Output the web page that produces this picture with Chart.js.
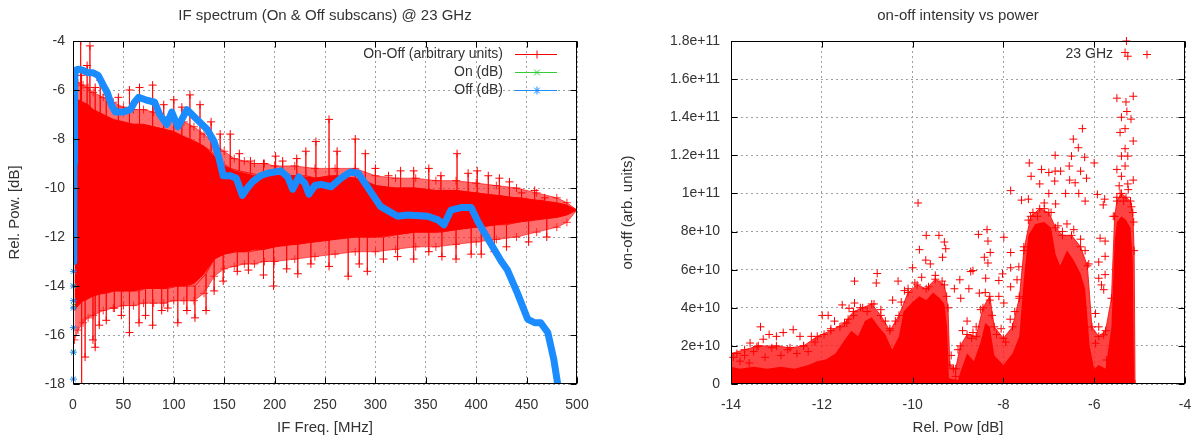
<!DOCTYPE html>
<html>
<head>
<meta charset="utf-8">
<script src="https://cdn.jsdelivr.net/npm/chart.js@4.4.1/dist/chart.umd.min.js"></script>
<style>
  html, body { margin: 0; padding: 0; background: #fff; }
  #wrap { position: relative; width: 1192px; height: 441px; overflow: hidden; }
  canvas { position: absolute; top: 0; }
  #left { left: 0; }
  #right { left: 596px; }
</style>
</head>
<body>
<div id="wrap">
  <canvas id="left" width="596" height="441"></canvas>
  <canvas id="right" width="596" height="441"></canvas>
</div>
<script>
// ---------- left panel: IF spectrum @ 23 GHz ----------
const offFreq = [0.6, 0.8, 1.0, 1.3, 1.7, 2.5, 5, 10, 15, 20, 25, 30, 34, 38, 42, 50, 57, 61, 65, 72,
  81, 86, 93, 98, 104, 108, 113, 118, 123, 133, 140, 145, 149, 156, 162, 168, 173, 178, 186, 193,
  206, 213, 218, 224, 230, 234, 240, 246, 256, 266, 275, 283, 292, 305, 322, 332, 352, 362, 368, 375,
  385, 395, 402, 412, 425, 431, 441, 451, 458, 464, 471, 477, 482];
const offDb = [-13.0, -11.0, -9.0, -7.0, -5.6, -5.2, -5.15, -5.2, -5.3, -5.3, -5.4, -5.8, -6.1, -6.6, -6.9, -6.9, -6.8, -6.5, -6.3, -6.4,
  -6.5, -7.0, -7.4, -6.9, -7.5, -7.2, -6.8, -7.0, -7.2, -7.6, -8.1, -8.8, -9.5, -9.5, -9.6, -10.3, -10.0, -9.75, -9.5, -9.4,
  -9.3, -9.55, -10.05, -9.55, -9.8, -10.25, -9.9, -9.85, -9.95, -9.6, -9.35, -9.4, -9.95, -10.75, -11.15, -11.1, -11.15, -11.3, -11.5, -10.9,
  -10.8, -10.8, -11.4, -12.1, -13.0, -13.35, -14.3, -15.35, -15.5, -15.5, -15.9, -17.0, -18.3];
// scattered Off / On samples at the very start of the band
const offStarFreq = [0.4, 0.4, 0.4, 0.4, 0.4, 0.4, 0.4];
const offStarDb = [-17.8, -16.7, -15.7, -14.9, -14.6, -14.0, -13.4];
const onStarFreq = [0.4, 0.4, 0.4];
const onStarDb = [-16.7, -14.0, -14.8];

// On-Off: envelopes of the dense trace
const envFreq = [1.5, 5, 10, 15, 20, 30, 40, 50, 60, 70, 80, 90, 100, 110, 120, 130, 140, 150, 160, 170,
  180, 190, 200, 220, 240, 260, 280, 300, 320, 340, 360, 380, 400, 420, 440, 460, 480, 490, 500];
const envTopOuter = [-6.0, -5.7, -5.8, -5.9, -6.1, -6.3, -6.5, -6.7, -6.8, -6.8, -6.9, -7.1, -7.2, -7.3, -7.5, -7.8, -8.2, -8.5, -8.8, -8.9,
  -9.0, -9.0, -9.1, -9.1, -9.2, -9.2, -9.2, -9.5, -9.6, -9.6, -9.7, -9.7, -9.8, -9.9, -10.0, -10.2, -10.4, -10.6, -10.9];
const envTopCore = [-6.8, -6.4, -6.5, -6.6, -6.8, -7.0, -7.2, -7.3, -7.4, -7.4, -7.5, -7.6, -7.7, -7.9, -8.1, -8.3, -8.7, -9.1, -9.3, -9.4,
  -9.5, -9.5, -9.5, -9.5, -9.6, -9.5, -9.6, -9.9, -10.0, -10.0, -10.1, -10.1, -10.2, -10.3, -10.4, -10.5, -10.6, -10.7, -10.9];
const envBotCore = [-15.0, -14.8, -14.6, -14.5, -14.4, -14.3, -14.2, -14.2, -14.2, -14.1, -14.1, -14.1, -14.0, -14.0, -13.9, -13.5, -12.9, -12.7, -12.6, -12.6,
  -12.5, -12.5, -12.4, -12.3, -12.2, -12.1, -12.0, -12.0, -11.9, -11.8, -11.8, -11.7, -11.6, -11.5, -11.4, -11.3, -11.2, -11.1, -10.9];
const envBotOuter = [-16.2, -15.8, -15.5, -15.3, -15.2, -15.0, -14.9, -14.8, -14.8, -14.7, -14.7, -14.7, -14.6, -14.6, -14.6, -14.3, -13.6, -13.3, -13.2, -13.1,
  -13.1, -13.0, -13.0, -12.9, -12.8, -12.7, -12.6, -12.6, -12.5, -12.4, -12.4, -12.3, -12.2, -12.1, -12.0, -11.8, -11.6, -11.4, -10.9];

// On-Off single-channel spikes: [freq, base, tip]
const spikesUp = [
  [7.6, -7, -4.0], [8.5, -7, -5.4], [14, -7, -5.0], [16.8, -7, -4.2], [22, -7, -5.9], [27, -7, -5.6],
  [33, -7.2, -6.2], [45, -7.3, -6.3], [56, -7.4, -6.0], [66, -7.4, -5.9], [79, -7.5, -5.8], [90, -7.6, -6.6],
  [100, -7.7, -6.4], [108, -7.9, -6.7], [116, -8.0, -6.2], [126, -8.2, -6.6], [137, -8.5, -7.3], [146, -8.9, -7.8],
  [156, -9.2, -7.8], [165, -9.3, -8.6], [176, -9.4, -8.9], [189, -9.5, -9.0], [201, -9.5, -8.7], [208, -9.5, -8.9],
  [222, -9.5, -8.8], [231, -9.5, -8.5], [241, -9.6, -8.1], [254, -9.5, -7.2], [262, -9.5, -8.5], [280, -9.6, -8.0],
  [290, -9.7, -8.6], [300, -9.9, -9.2], [313, -10.0, -9.5], [325, -10.0, -9.3], [338, -10.0, -9.3], [353, -10.1, -9.2],
  [365, -10.1, -9.5], [381, -10.1, -8.6], [392, -10.2, -9.4], [401, -10.2, -9.3], [412, -10.3, -9.5], [423, -10.3, -9.6],
  [433, -10.4, -9.75], [445, -10.4, -10.2], [458, -10.5, -10.1], [468, -10.5, -10.4]
];
const spikesDown = [
  [8.6, -14.6, -18.5], [12, -14.6, -16.9], [19.8, -14.4, -16.2], [22, -14.4, -16.5], [26, -14.3, -15.6], [33, -14.3, -15.4],
  [41, -14.2, -14.9], [48, -14.2, -15.2], [56, -14.2, -15.9], [65.5, -14.2, -15.5], [72, -14.1, -15.2], [79, -14.1, -15.6],
  [88, -14.1, -15.0], [94, -14.1, -14.9], [104, -14.0, -15.5], [113, -14.0, -15.0], [121, -14.0, -15.3], [132, -13.5, -15.0],
  [140, -12.9, -14.2], [149, -12.7, -13.8], [163, -12.6, -13.4], [174, -12.6, -13.35], [189, -12.5, -13.55], [199, -12.4, -14.0],
  [212, -12.3, -13.3], [223, -12.3, -13.5], [236, -12.2, -13.1], [254, -12.1, -13.2], [273, -12.0, -13.6], [284, -12.0, -13.1],
  [292, -12.0, -13.4], [308, -12.0, -12.9], [322, -11.9, -12.8], [338, -11.8, -12.9], [353, -11.8, -12.6], [366, -11.8, -12.8],
  [380, -11.7, -12.9], [395, -11.6, -12.7], [405, -11.6, -12.7], [418, -11.5, -12.6], [430, -11.5, -12.4], [452, -11.3, -12.2],
  [470, -11.2, -12.0]
];

// ---------- right panel: on-off intensity vs power (values in units of 1e10) ----------
const intensityTicks = [0, 2, 4, 6, 8, 10, 12, 14, 16, 18];
const intensityTickLabels = ['0', '2e+10', '4e+10', '6e+10', '8e+10', '1e+11', '1.2e+11', '1.4e+11', '1.6e+11', '1.8e+11'];

const coreDb = [-14.0, -13.8, -13.5, -13.2, -12.9, -12.6, -12.3, -12.1, -11.9, -11.7, -11.5, -11.35, -11.2, -11.05, -10.9, -10.75, -10.6, -10.45, -10.3, -10.2,
  -10.0, -9.85, -9.7, -9.55, -9.4, -9.3, -9.24, -9.2, -9.0, -8.95, -8.8, -8.65, -8.5, -8.4, -8.3, -8.2, -8.0, -7.8, -7.65, -7.55,
  -7.45, -7.3, -7.1, -6.95, -6.85, -6.75, -6.6, -6.45, -6.3, -6.2, -6.1, -6.0, -5.9, -5.75, -5.62, -5.55, -5.5, -5.4, -5.3, -5.2, -5.15, -5.12];
const coreVal = [0.9, 0.8, 0.9, 0.8, 0.9, 0.8, 1.0, 1.2, 1.3, 1.6, 2.3, 2.8, 2.5, 3.3, 3.5, 3.0, 2.6, 1.8, 2.5, 3.8,
  4.3, 4.6, 4.4, 4.8, 4.5, 4.2, 3.0, 0.3, 0.2, 0.6, 1.6, 1.2, 2.2, 3.2, 3.0, 1.5, 1.0, 1.6, 2.5, 5.5,
  7.8, 8.4, 8.5, 8.2, 6.8, 6.2, 7.0, 6.5, 5.8, 5.0, 2.0, 0.8, 1.0, 0.8, 3.0, 7.5, 8.5, 8.8, 8.6, 8.2, 6.5, 0];
const fringeDb = [-14.0, -13.7, -13.4, -13.0, -12.7, -12.4, -12.1, -11.8, -11.5, -11.3, -11.1, -10.9, -10.7, -10.5, -10.3, -10.1, -9.9, -9.7, -9.5, -9.3,
  -9.22, -9.18, -9.05, -8.95, -8.8, -8.6, -8.45, -8.3, -8.2, -8.0, -7.8, -7.65, -7.55, -7.4, -7.2, -7.0, -6.85, -6.7, -6.5, -6.3,
  -6.15, -6.05, -5.9, -5.75, -5.62, -5.55, -5.5, -5.4, -5.3, -5.2, -5.15, -5.12, -5.1];
const fringeVal = [1.6, 1.8, 2.0, 2.0, 1.9, 2.0, 2.5, 2.8, 3.2, 3.8, 4.0, 4.2, 3.6, 2.8, 3.6, 4.8, 5.2, 5.0, 5.5, 5.2,
  4.0, 1.0, 0.8, 2.0, 2.6, 2.5, 4.0, 4.6, 3.0, 2.4, 3.0, 4.5, 7.0, 8.8, 9.2, 9.0, 8.2, 7.8, 7.8, 7.2,
  6.2, 3.0, 2.5, 2.8, 4.5, 8.8, 9.6, 10.0, 9.8, 9.6, 9.0, 7.0, 0];

// isolated samples around and above the dense cloud: [rel. pow dB, intensity]
const outliers = [
  [-5.29, 18.0], [-5.32, 17.4], [-5.26, 17.2], [-5.5, 15.0], [-5.3, 14.8], [-5.14, 15.1], [-5.28, 14.3], [-5.4, 14.0],
  [-5.19, 13.9], [-5.43, 13.2], [-5.32, 13.4], [-5.14, 12.75], [-5.32, 12.35], [-5.4, 11.96], [-5.26, 11.96], [-5.5, 11.26],
  [-5.32, 11.44], [-5.4, 10.9], [-5.26, 10.5], [-5.14, 10.7], [-5.43, 10.0],
  [-6.26, 13.4], [-6.46, 12.85], [-6.35, 12.4], [-6.86, 12.0], [-6.5, 11.96], [-6.21, 11.9], [-7.43, 11.6], [-6.0, 11.6],
  [-6.55, 11.44], [-7.16, 11.26], [-6.86, 11.17], [-7.0, 11.1], [-6.74, 11.17], [-6.3, 11.17], [-7.39, 10.9], [-7.2, 10.5],
  [-6.87, 10.65], [-6.54, 10.7], [-6.17, 10.8], [-6.42, 10.56], [-7.84, 10.15], [-5.93, 9.95], [-7.0, 10.0], [-6.63, 10.0],
  [-6.34, 10.0], [-7.6, 9.65], [-7.45, 9.7], [-7.1, 9.5], [-6.85, 9.45], [-6.2, 9.6], [-5.77, 9.7], [-5.8, 9.4],
  [-9.88, 9.5], [-9.7, 7.8], [-9.42, 7.8], [-9.3, 7.45], [-9.27, 7.1], [-9.85, 7.05], [-9.71, 6.5], [-9.34, 6.65],
  [-9.61, 6.3], [-10.0, 6.1], [-11.28, 5.4], [-10.78, 5.8], [-10.8, 5.3], [-10.32, 5.4], [-11.55, 4.15], [-11.28, 4.25],
  [-11.99, 3.6], [-11.86, 3.6], [-11.72, 3.3], [-11.42, 3.4], [-10.44, 4.4], [-10.18, 4.9], [-13.35, 3.0], [-13.16, 2.6],
  [-12.63, 2.85], [-12.85, 2.7], [-12.48, 2.5], [-12.23, 2.5], [-13.58, 2.15], [-13.29, 2.35], [-13.0, 2.5], [-13.87, 1.6],
  [-13.43, 1.96], [-11.4, 3.97],
  [-8.55, 7.85], [-8.36, 8.1], [-8.34, 7.5], [-7.99, 7.7], [-8.29, 6.9], [-8.42, 6.65], [-8.34, 6.35], [-7.84, 6.9],
  [-8.72, 5.9], [-7.84, 6.1], [-7.66, 6.15], [-8.96, 5.47], [-9.08, 5.0], [-8.94, 4.5], [-8.76, 5.0], [-8.39, 5.55],
  [-8.53, 4.77], [-8.1, 4.6], [-7.84, 5.1], [-7.99, 4.25], [-7.7, 5.47], [-8.02, 5.78], [-8.1, 5.43], [-8.67, 5.95],
  [-5.9, 5.55], [-5.84, 5.2], [-5.76, 5.74], [-5.79, 4.95], [-5.9, 6.4], [-5.76, 6.7], [-5.87, 7.65], [-5.76, 7.5],
  [-5.97, 3.7], [-5.9, 3.0], [-5.79, 2.58], [-5.97, 2.14], [-5.73, 1.26], [-5.9, 0.56], [-5.72, 0.3],
  [-8.67, 2.7], [-9.15, 1.5], [-9.1, 0.8], [-9.05, 0.4],
  [-13.95, 1.4], [-13.8, 1.2], [-13.7, 1.5], [-13.6, 1.1], [-13.5, 1.7], [-13.25, 1.4], [-13.1, 1.9], [-12.9, 1.5],
  [-12.75, 1.8], [-12.55, 1.6], [-12.4, 2.0], [-12.3, 1.7], [-12.15, 2.2], [-11.95, 2.6], [-11.8, 2.9], [-11.6, 3.0],
  [-11.45, 3.2], [-11.3, 3.6], [-11.15, 4.0], [-11.0, 3.8], [-10.85, 4.2], [-10.7, 3.9], [-10.6, 3.3], [-10.5, 2.9],
  [-10.38, 3.3], [-10.25, 4.3], [-10.1, 5.0], [-9.95, 5.3], [-9.8, 5.6], [-9.65, 5.1], [-9.5, 5.7], [-9.35, 5.4], [-9.25, 4.6],
  [-9.0, 1.8], [-8.9, 2.8], [-8.8, 3.3], [-8.7, 2.4], [-8.6, 3.0], [-8.5, 3.9], [-8.4, 4.8], [-8.3, 4.4], [-8.25, 3.6],
  [-8.15, 2.6], [-8.05, 2.9], [-7.95, 2.2], [-7.85, 3.4], [-7.75, 3.8], [-7.65, 4.6],
  [-7.55, 7.2], [-7.45, 8.6], [-7.35, 9.0], [-7.25, 8.8], [-7.1, 9.2], [-6.95, 9.0], [-6.8, 8.3], [-6.7, 8.0], [-6.6, 8.4],
  [-6.45, 8.1], [-6.3, 7.6], [-6.2, 7.0], [-6.12, 6.3],
  [-5.58, 8.8], [-5.5, 9.8], [-5.45, 10.4], [-5.35, 9.6], [-5.25, 10.2], [-5.18, 9.3], [-5.13, 8.5]
];

const FONT = { family: '"Liberation Sans", Arial, sans-serif', size: 14 };
const TITLE_FONT = { family: '"Liberation Sans", Arial, sans-serif', size: 15, weight: 'normal' };
const TEXT = '#333';
const GRID = '#a0a0a0';
const RED = '#ff0000';
const GREEN = '#33cc33';
const BLUE = '#1a8cff';

const pts = (xs, ys) => xs.map((x, i) => ({ x: x, y: ys[i] }));
const spikePath = list => list.flatMap(s => [{ x: s[0], y: s[1] }, { x: s[0], y: s[2] }, { x: s[0], y: s[1] }]);

// gnuplot-like frame with inward tics on all four sides
const gnuplotFrame = {
  id: 'gnuplotFrame',
  afterDatasetsDraw(chart) {
    const { ctx, chartArea: a, scales } = chart;
    const L = Math.round(a.left) + 0.5, R = Math.round(a.right) - 0.5;
    const T = Math.round(a.top) + 0.5, B = Math.round(a.bottom) - 0.5;
    ctx.save();
    ctx.strokeStyle = '#000';
    ctx.lineWidth = 1;
    ctx.beginPath();
    scales.x.ticks.forEach(t => {
      const px = Math.round(scales.x.getPixelForValue(t.value)) + 0.5;
      ctx.moveTo(px, B); ctx.lineTo(px, B - 6);
      ctx.moveTo(px, T); ctx.lineTo(px, T + 6);
    });
    scales.y.ticks.forEach(t => {
      const py = Math.round(scales.y.getPixelForValue(t.value)) + 0.5;
      ctx.moveTo(L, py); ctx.lineTo(L + 6, py);
      ctx.moveTo(R, py); ctx.lineTo(R - 6, py);
    });
    ctx.stroke();
    ctx.strokeRect(L, T, R - L, B - T);
    ctx.restore();
  }
};

// gnuplot-like key: right aligned text followed by a sample
const gnuplotKey = {
  id: 'gnuplotKey',
  afterDraw(chart, args, opts) {
    if (!opts.entries) return;
    const ctx = chart.ctx;
    ctx.save();
    ctx.font = FONT.size + 'px ' + FONT.family;
    ctx.textAlign = 'right';
    ctx.textBaseline = 'middle';
    opts.entries.forEach((e, i) => {
      const y = opts.top + i * opts.rowHeight;
      ctx.fillStyle = TEXT;
      ctx.fillText(chart.data.datasets[e.dataset].label, opts.textRight, y);
      ctx.strokeStyle = e.color;
      ctx.fillStyle = e.color;
      ctx.lineWidth = 1;
      if (opts.lineFrom !== undefined) {
        ctx.beginPath();
        ctx.moveTo(opts.lineFrom, Math.round(y) + 0.5);
        ctx.lineTo(opts.lineTo, Math.round(y) + 0.5);
        ctx.stroke();
      }
      Chart.helpers.drawPoint(ctx, { pointStyle: e.marker, radius: 4, rotation: 0, borderWidth: 1 }, opts.markerX, Math.round(y) + 0.5);
    });
    ctx.restore();
  }
};

function axis(min, max, step, title, titlePad, fit, labels) {
  return {
    type: 'linear', min: min, max: max,
    ticks: {
      stepSize: step, font: FONT, color: TEXT, padding: 8, maxRotation: 0, autoSkip: false,
      callback: v => labels ? labels[intensityTicks.indexOf(v)] : String(v)
    },
    grid: { color: GRID, lineWidth: 1, drawTicks: false },
    border: { display: false, dash: [2, 3] },
    title: { display: true, text: title, font: TITLE_FONT, color: TEXT, padding: titlePad },
    afterFit: fit
  };
}

function baseOptions(title) {
  return {
    responsive: false,
    animation: false,
    devicePixelRatio: 1,
    events: [],
    plugins: {
      legend: { display: false },
      tooltip: { enabled: false },
      title: {
        display: true, text: title, fullSize: false, font: TITLE_FONT, color: TEXT,
        padding: { top: 7, bottom: 16 }
      }
    }
  };
}

// fixed axis boxes, no extra room for overhanging end labels
const fitX = s => { s.height = 57; s.paddingLeft = 0; s.paddingRight = 0; };

const leftOpts = baseOptions('IF spectrum (On & Off subscans) @ 23 GHz');
leftOpts.layout = { padding: { left: 0, right: 19, top: 0, bottom: 0 } };
leftOpts.scales = {
  x: axis(0, 500, 50, 'IF Freq. [MHz]', { top: 0, bottom: 4 }, fitX),
  y: axis(-18, -4, 2, 'Rel. Pow. [dB]', { top: 6, bottom: 0 }, s => { s.width = 73; })
};
leftOpts.scales.x.ticks.padding = 13;
leftOpts.plugins.gnuplotKey = {
  top: 54, rowHeight: 18, textRight: 503, lineFrom: 515, lineTo: 557, markerX: 537,
  entries: [
    { dataset: 7, color: RED, marker: 'cross' },
    { dataset: 2, color: GREEN, marker: 'crossRot' },
    { dataset: 0, color: BLUE, marker: 'star' }
  ]
};

new Chart(document.getElementById('left'), {
  type: 'line',
  data: {
    datasets: [
      { label: 'Off (dB)', data: pts(offFreq, offDb), borderColor: BLUE, borderWidth: 7,
        borderJoinStyle: 'round', borderCapStyle: 'round', pointRadius: 0 },
      { label: 'Off (dB) x0', data: pts(offStarFreq, offStarDb), showLine: false, borderColor: BLUE,
        pointStyle: 'star', pointRadius: 3.5, pointBorderWidth: 1, clip: 6 },
      { label: 'On (dB)', data: pts(onStarFreq, onStarDb), showLine: false, borderColor: GREEN,
        pointStyle: 'crossRot', pointRadius: 3.5, pointBorderWidth: 1, clip: 6 },
      { label: 'spikes up', data: spikePath(spikesUp), borderColor: 'rgba(255,0,0,0.85)', borderWidth: 1,
        pointStyle: 'cross', pointBorderColor: RED, pointBorderWidth: 1,
        pointRadius: c => (c.index % 3 === 1 ? 4 : 0) },
      { label: 'spikes down', data: spikePath(spikesDown), borderColor: 'rgba(255,0,0,0.85)', borderWidth: 1,
        pointStyle: 'cross', pointBorderColor: RED, pointBorderWidth: 1,
        pointRadius: c => (c.index % 3 === 1 ? 4 : 0) },
      { label: 'core top', data: pts(envFreq, envTopCore), borderColor: RED, borderWidth: 1,
        backgroundColor: RED, fill: '+1', pointRadius: 0 },
      { label: 'core bottom', data: pts(envFreq, envBotCore), borderColor: RED, borderWidth: 1, pointRadius: 0 },
      { label: 'On-Off (arbitrary units)', data: pts(envFreq, envTopOuter), borderColor: 'rgba(255,0,0,0.6)',
        borderWidth: 1, backgroundColor: 'rgba(255,30,30,0.65)', fill: '+1',
        pointStyle: 'cross', pointRadius: 4, pointBorderColor: 'rgba(255,0,0,0.8)', pointBorderWidth: 1 },
      { label: 'outer bottom', data: pts(envFreq, envBotOuter), borderColor: 'rgba(255,0,0,0.6)', borderWidth: 1,
        pointStyle: 'cross', pointRadius: 4, pointBorderColor: 'rgba(255,0,0,0.8)', pointBorderWidth: 1 }
    ]
  },
  options: leftOpts,
  plugins: [gnuplotFrame, gnuplotKey]
});

const rightOpts = baseOptions('on-off intensity vs power');
rightOpts.layout = { padding: { left: 0, right: 7, top: 0, bottom: 0 } };
rightOpts.scales = {
  x: axis(-14, -4, 2, 'Rel. Pow [dB]', { top: 0, bottom: 4 }, fitX),
  y: axis(0, 18, 2, 'on-off (arb. units)', { top: 23, bottom: 0 }, s => { s.width = 135; }, intensityTickLabels)
};
rightOpts.scales.x.ticks.padding = 13;
rightOpts.scales.y.ticks.padding = 11;
rightOpts.plugins.gnuplotKey = {
  top: 54, rowHeight: 18, textRight: 517, markerX: 551,
  entries: [{ dataset: 0, color: RED, marker: 'cross' }]
};

new Chart(document.getElementById('right'), {
  type: 'line',
  data: {
    datasets: [
      { label: '23 GHz', data: outliers.map(p => ({ x: p[0], y: p[1] })), showLine: false,
        pointStyle: 'cross', pointRadius: 4, pointBorderColor: RED, pointBorderWidth: 1, clip: 6 },
      { label: 'dense', data: pts(coreDb, coreVal), borderWidth: 0, borderColor: RED,
        backgroundColor: RED, fill: 'origin', pointRadius: 0 },
      { label: 'fringe', data: pts(fringeDb, fringeVal), borderWidth: 1, borderColor: 'rgba(255,0,0,0.8)',
        backgroundColor: 'rgba(255,20,20,0.8)', fill: 'origin',
        pointStyle: 'cross', pointRadius: 4, pointBorderColor: RED, pointBorderWidth: 1 }
    ]
  },
  options: rightOpts,
  plugins: [gnuplotFrame, gnuplotKey]
});
</script>
</body>
</html>
